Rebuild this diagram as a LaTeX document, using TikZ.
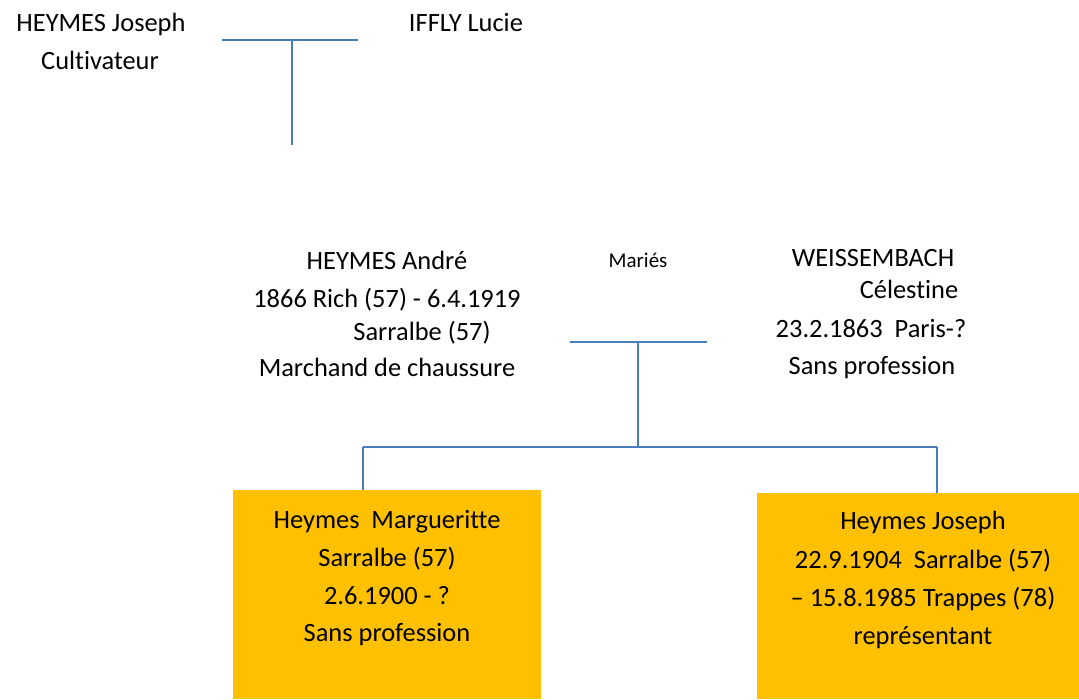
\documentclass[tikz,border=0pt]{standalone}
\usepackage{fontspec}
\setmainfont{Carlito}[Ligatures=NoCommon]
\usepackage{xcolor}
\usepackage{tikz}
\usetikzlibrary{positioning, calc}
\definecolor{lineblue}{RGB}{74,126,187}
\definecolor{boxgold}{RGB}{255,192,0}
\tikzset{
  link/.style={draw=lineblue, line width=1.4pt},
  person/.style={anchor=base, inner sep=0pt, font=\fontsize{26.4}{31}\selectfont},
  married/.style={anchor=base, inner sep=0pt, font=\fontsize{21}{25}\selectfont},
  childbox/.style={fill=boxgold, draw=none, anchor=north west, inner sep=0pt},
  every node/.style={text=black}
}
\begin{document}
\begin{tikzpicture}[x=1pt,y=-1pt]
    \useasboundingbox (0,0) rectangle (1079,699);
    % grandparents
    \node[person] (joseph1) at (101,31) {HEYMES Joseph};
    \node[person] (joseph2) at (100,69) {Cultivateur};
    \node[person] (lucie) at (466,31) {IFFLY Lucie};
    \coordinate (topL) at (222,40);
    \coordinate (topR) at (358,40);
    \coordinate (topM) at (292,40);
    \coordinate (topEnd) at (292,145);
    \draw[link] (topL) -- (topR);
    \draw[link] (topM) -- (topEnd);
    % parents
    \node[person] (andre1) at (387,269) {HEYMES André};
    \node[person] (andre2) at (387,307) {1866 Rich (57) - 6.4.1919};
    \node[person] (andre3) at (422,340) {Sarralbe (57)};
    \node[person] (andre4) at (387,376) {Marchand de chaussure};
    \node[married] (maries) at (638,267) {Mariés};
    \node[person] (celes1) at (873,266) {WEISSEMBACH};
    \node[person] (celes2) at (909,298) {Célestine};
    \node[person] (celes3) at (871,337) {23.2.1863\ \ Paris-?};
    \node[person] (celes4) at (872,374) {Sans profession};
    \coordinate (midL) at (570,342);
    \coordinate (midR) at (707,342);
    \coordinate (midM) at (638,342);
    \coordinate (sibM) at (638,447);
    \coordinate (sibL) at (363,447);
    \coordinate (sibR) at (937,447);
    \draw[link] (midL) -- (midR);
    \draw[link] (midM) -- (sibM);
    \draw[link] (sibL) -- (sibR);
    % children
    \node[childbox, minimum width=308pt, minimum height=209pt] (margbox) at (233,490) {};
    \node[childbox, minimum width=322pt, minimum height=206pt] (josbox) at (757,493) {};
    \draw[link] (sibL) -- (sibL |- margbox.north);
    \draw[link] (sibR) -- (sibR |- josbox.north);
    \foreach \y/\txt [count=\i] in {528/{Heymes\ \ Margueritte}, 566/{Sarralbe (57)}, 604/{2.6.1900 - ?}, 641/{Sans profession}}{
        \node[person] (marg\i) at (387,\y) {\txt};
    }
    \foreach \y/\txt [count=\i] in {529/{Heymes Joseph}, 568/{22.9.1904\ \ Sarralbe (57)}, 606/{– 15.8.1985 Trappes (78)}, 644/{représentant}}{
        \node[person] (jos\i) at (923,\y) {\txt};
    }
\end{tikzpicture}
\end{document}
